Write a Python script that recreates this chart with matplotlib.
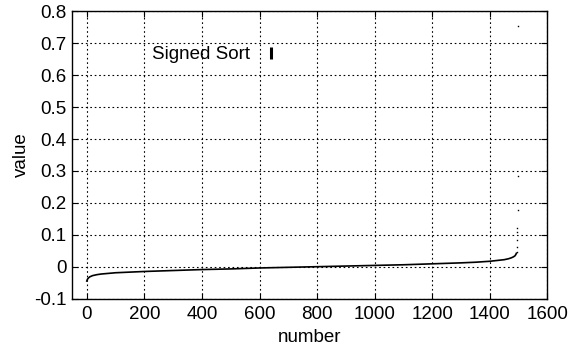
import matplotlib.pyplot as plt
from matplotlib.lines import Line2D

plt.rcParams['font.family'] = ['Liberation Sans', 'DejaVu Sans']

# sorted signed values
idx = [0, 2, 5, 10, 20, 35, 50, 75, 100, 150, 200, 300, 400, 500, 600, 700,
       800, 900, 1000, 1100, 1200, 1300, 1350, 1400, 1430, 1450, 1465, 1475,
       1482, 1487, 1490, 1492]
vals = [-0.045, -0.040, -0.036, -0.032, -0.028, -0.025, -0.023, -0.021,
        -0.019, -0.017, -0.015, -0.012, -0.009, -0.007, -0.004, -0.002,
        0.000, 0.002, 0.004, 0.006, 0.009, 0.012, 0.014, 0.017, 0.020,
        0.022, 0.025, 0.028, 0.031, 0.034, 0.038, 0.042]

# the few outliers at the end
tail_idx = [1493, 1494, 1494, 1495, 1495, 1496, 1497, 1498]
tail_vals = [0.046, 0.062, 0.084, 0.108, 0.121, 0.178, 0.284, 0.755]

fig = plt.figure(figsize=(5.7, 3.47), dpi=100)
ax = fig.add_axes([0.127, 0.1395, 0.8335, 0.8275])

ax.plot(idx, vals, color='black', lw=1.2)
ax.plot(tail_idx, tail_vals, ls='none', marker='s', ms=1.0, color='black', mew=0)

ax.set_xlim(-50, 1600)
ax.set_ylim(-0.1, 0.8)
ax.set_xticks(range(0, 1601, 200))
ax.set_yticks([-0.1, 0, 0.1, 0.2, 0.3, 0.4, 0.5, 0.6, 0.7, 0.8])
ax.set_yticklabels(['-0.1', '0', '0.1', '0.2', '0.3', '0.4', '0.5', '0.6', '0.7', '0.8'])
ax.grid(True, color='black', ls=(0, (1.5, 2.5)), lw=0.8)
ax.tick_params(direction='in', top=True, right=True, labelsize=13.5, length=4)
ax.tick_params(axis='y', pad=4)
ax.tick_params(axis='x', pad=5)
for s in ax.spines.values():
    s.set_linewidth(1.0)

ax.set_xlabel('number', fontsize=13.5, labelpad=5)
ax.set_ylabel('value', fontsize=13.5, labelpad=3)

h = Line2D([], [], ls='none', marker='|', ms=8, mew=2.2, color='black')
ax.legend([h], ['Signed Sort'], loc='center left', bbox_to_anchor=(0.168, 0.85),
          frameon=False, markerfirst=False, fontsize=13.5, handlelength=1.0,
          handletextpad=0.6, borderpad=0, borderaxespad=0)

fig.savefig('out.png', dpi=100)
